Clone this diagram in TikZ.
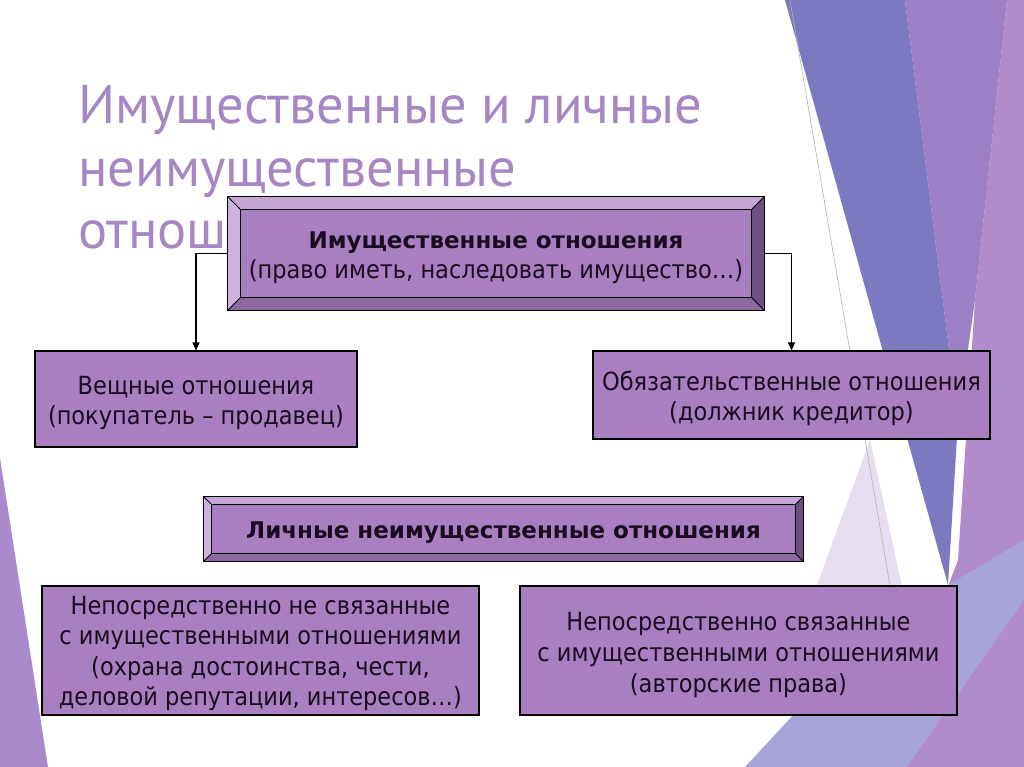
\documentclass[tikz,border=0pt]{standalone}
\usepackage{fontspec}
\setmainfont{DejaVu Sans Condensed}
\newfontfamily\widefont{DejaVu Sans}
\newfontfamily\titlefont{PT Sans}
\usetikzlibrary{arrows.meta}
\definecolor{boxfill}{HTML}{A97FC1}
\definecolor{bvtopc}{HTML}{C4A5D7}
\definecolor{bvleftc}{HTML}{CDB4E0}
\definecolor{bvrightc}{HTML}{6C5180}
\definecolor{bvbotc}{HTML}{8C6AA1}
\definecolor{txtc}{HTML}{1A0C1F}
\definecolor{titlec}{HTML}{A687C3}
\definecolor{decoblue}{HTML}{7C79C1}
\definecolor{decomid}{HTML}{9C80C5}
\definecolor{decolight}{HTML}{B08CCB}
\definecolor{decolav}{HTML}{A6A4D9}
\definecolor{decopale}{HTML}{E6DEF0}
\definecolor{decoleft}{HTML}{A98ACB}
\tikzset{
  plainbox/.style={draw=black, line width=1.1pt, fill=boxfill, inner sep=0pt},
  bevelbox/.style={plainbox},
  boxtext/.style={inner sep=0pt, align=center, text=txtc, font=\fontsize{25}{29.5}\selectfont},
  conn/.style={draw=black, line width=1.1pt, -{Triangle[length=8pt,width=7pt]}},
  titletext/.style={anchor=base west, inner sep=0pt, text=titlec,
    font=\titlefont\fontsize{54.5}{62}\selectfont}
}
\newcommand\boldline[1]{{\widefont\bfseries\fontsize{23}{31}\selectfont #1}}
\newcommand\bevelit[2]{%
  \fill[bvtopc] (#1.north west) -- (#1.north east) -- ([shift={(-#2,#2)}]#1.north east) -- ([shift={(#2,#2)}]#1.north west) -- cycle;
  \fill[bvleftc] (#1.north west) -- (#1.south west) -- ([shift={(#2,-#2)}]#1.south west) -- ([shift={(#2,#2)}]#1.north west) -- cycle;
  \fill[bvrightc] (#1.north east) -- (#1.south east) -- ([shift={(-#2,-#2)}]#1.south east) -- ([shift={(-#2,#2)}]#1.north east) -- cycle;
  \fill[bvbotc] (#1.south west) -- (#1.south east) -- ([shift={(-#2,-#2)}]#1.south east) -- ([shift={(#2,-#2)}]#1.south west) -- cycle;
  \draw[line width=0.8pt] ([shift={(#2,#2)}]#1.north west) rectangle ([shift={(-#2,-#2)}]#1.south east);
  \draw[line width=0.8pt] (#1.north west) -- ([shift={(#2,#2)}]#1.north west)
     (#1.north east) -- ([shift={(-#2,#2)}]#1.north east)
     (#1.south west) -- ([shift={(#2,-#2)}]#1.south west)
     (#1.south east) -- ([shift={(-#2,-#2)}]#1.south east);
  \draw[line width=1.1pt] (#1.north west) rectangle (#1.south east);
}
\begin{document}
\begin{tikzpicture}[x=1pt,y=-1pt]
\useasboundingbox (0,0) rectangle (1024,767);
\fill[white] (0,0) rectangle (1024,767);
% background decoration
\fill[decolight] (1007,0) -- (1024,0) -- (1024,767) -- (880,767) -- (958,560) -- (975,300) -- cycle;
\fill[decomid] (905,0) -- (1007,0) -- (975,300) -- (958,420) -- cycle;
\fill[decoblue] (785,0) -- (905,0) -- (958,420) -- (948,585) -- cycle;
\fill[decopale] (775,700) -- (870,440) -- (905,600) -- cycle;
\fill[decolav] (745,767) -- (900,600) -- (948,585) -- (1024,540) -- (1024,600) -- (907,767) -- cycle;
\draw[gray!60, line width=0.6pt] (790,0) -- (895,615);
\fill[decoleft] (0,458) -- (48,767) -- (0,767) -- cycle;
% title
\node[titletext] (t1) at (78,124) {Имущественные и личные};
\node[titletext] (t2) at (78,187) {неимущественные};
\node[titletext] (t3) at (78,248) {отношения};
% boxes
\node[bevelbox, minimum width=536pt, minimum height=113pt] (imush) at (496,253.5) {};
\bevelit{imush}{13}
\node[boxtext] (imush-t) at ([yshift=-4pt]imush.center)
  {\boldline{Имущественные отношения}\\(право иметь, наследовать имущество…)};
\node[bevelbox, minimum width=599pt, minimum height=64pt] (lichn) at (503.5,529) {};
\bevelit{lichn}{8}
\node[boxtext] (lichn-t) at ([yshift=-4pt]lichn.center)
  {\boldline{Личные неимущественные отношения}};
\node[plainbox, minimum width=322pt, minimum height=96pt] (veshch) at (196,399) {};
\node[boxtext] (veshch-t) at ([yshift=-4pt]veshch.center)
  {Вещные отношения\\(покупатель – продавец)};
\node[plainbox, minimum width=397pt, minimum height=88pt] (obyaz) at (791.5,395) {};
\node[boxtext] (obyaz-t) at ([yshift=-3.5pt]obyaz.center)
  {Обязательственные отношения\\(должник кредитор)};
\node[plainbox, minimum width=437pt, minimum height=129pt] (nesv) at (260.5,650.5) {};
\node[boxtext, font=\fontsize{25}{30.5}\selectfont] (nesv-t) at ([yshift=-3pt]nesv.center)
  {Непосредственно не связанные\\с имущественными отношениями\\(охрана достоинства, чести,\\деловой репутации, интересов…)};
\node[plainbox, minimum width=437pt, minimum height=129pt] (sv) at (738.5,650.5) {};
\node[boxtext, font=\fontsize{25}{31}\selectfont] (sv-t) at ([yshift=-4pt]sv.center)
  {Непосредственно связанные\\с имущественными отношениями\\(авторские права)};
% connectors
\draw[conn] (imush.west) -| (veshch.north);
\draw[conn] (imush.east) -| (obyaz.north);
\end{tikzpicture}
\end{document}
